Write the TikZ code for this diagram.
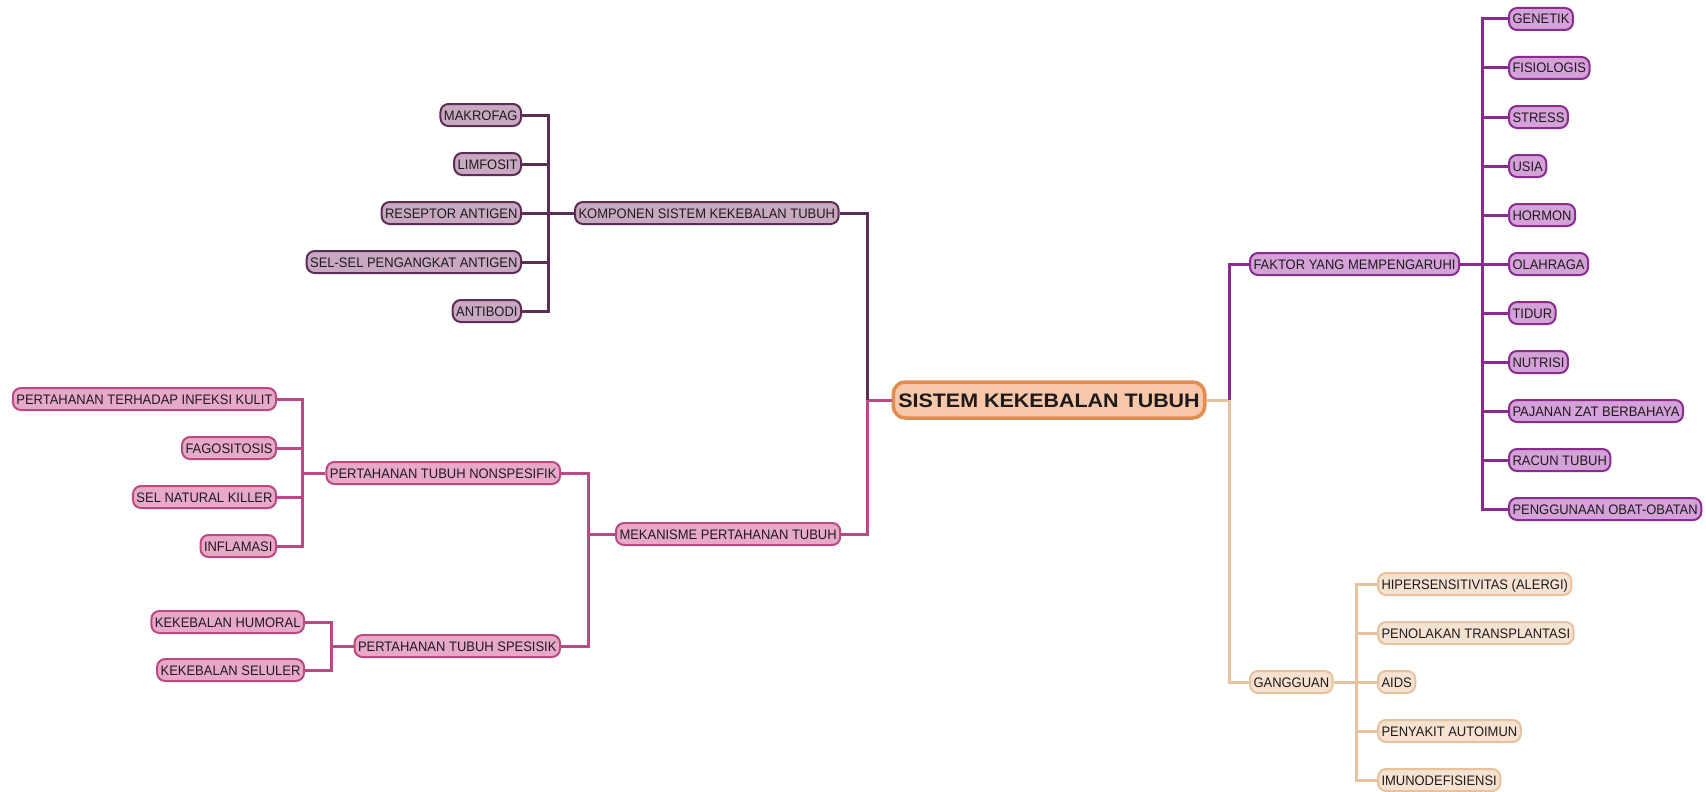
\documentclass[tikz,border=0pt]{standalone}
\usepackage{fontspec}
\setmainfont{Liberation Sans}
\newfontfamily\bigfont[FakeStretch=1.1]{Liberation Sans}
\newfontfamily\smallfont[FakeStretch=0.94]{Liberation Sans}
\definecolor{kline}{HTML}{5C2D55}
\definecolor{kfill}{HTML}{C9A9C2}
\definecolor{mline}{HTML}{BA4A83}
\definecolor{mfill}{HTML}{E8A9C9}
\definecolor{fline}{HTML}{8A2B8E}
\definecolor{ffill}{HTML}{D4A2D9}
\definecolor{gline}{HTML}{E6C29F}
\definecolor{gfill}{HTML}{F6E2D1}
\definecolor{cline}{HTML}{E38C52}
\definecolor{cfill}{HTML}{F8C7A9}
\definecolor{txt}{HTML}{1E1A1C}
\begin{document}
\begin{tikzpicture}[x=1pt,y=-1pt,
  box/.style={rounded corners=8pt, line width=2pt, inner xsep=3.5pt, inner ysep=0pt,
    minimum height=22pt, text height=10pt, text depth=0pt,
    font=\smallfont\fontsize{13.8}{15}\selectfont, text=txt},
  kbox/.style={box, draw=kline, fill=kfill},
  mbox/.style={box, draw=mline, fill=mfill},
  fbox/.style={box, draw=fline, fill=ffill},
  gbox/.style={box, draw=gline, fill=gfill},
  cbox/.style={rounded corners=12pt, line width=3.5pt, draw=cline, fill=cfill,
    inner xsep=5pt, inner ysep=0pt, minimum height=36pt, text height=14pt, text depth=0pt,
    font=\bigfont\bfseries\fontsize{19.5}{22}\selectfont, text=txt},
  kcon/.style={draw=kline, line width=3pt},
  mcon/.style={draw=mline, line width=3pt},
  fcon/.style={draw=fline, line width=3pt},
  gcon/.style={draw=gline, line width=3pt}
]
\useasboundingbox (0,0) rectangle (1706,792);

% central
\node[cbox] (center) at (1049,400) {SISTEM KEKEBALAN TUBUH};

% komponen group
\node[kbox, anchor=west] (komp) at (574,213) {KOMPONEN SISTEM KEKEBALAN TUBUH};
\node[kbox, anchor=east] (k1) at (522,115) {MAKROFAG};
\node[kbox, anchor=east] (k2) at (522,164) {LIMFOSIT};
\node[kbox, anchor=east] (k3) at (522,213) {RESEPTOR ANTIGEN};
\node[kbox, anchor=east] (k4) at (522,262) {SEL-SEL PENGANGKAT ANTIGEN};
\node[kbox, anchor=east] (k5) at (522,311) {ANTIBODI};

% mekanisme group
\node[mbox, anchor=west] (mek) at (615,534) {MEKANISME PERTAHANAN TUBUH};
\node[mbox, anchor=east] (nons) at (561,473) {PERTAHANAN TUBUH NONSPESIFIK};
\node[mbox, anchor=east] (spes) at (561,646) {PERTAHANAN TUBUH SPESISIK};
\node[mbox, anchor=east] (n1) at (277,399) {PERTAHANAN TERHADAP INFEKSI KULIT};
\node[mbox, anchor=east] (n2) at (277,448) {FAGOSITOSIS};
\node[mbox, anchor=east] (n3) at (277,497) {SEL NATURAL KILLER};
\node[mbox, anchor=east] (n4) at (277,546) {INFLAMASI};
\node[mbox, anchor=east] (s1) at (305,622) {KEKEBALAN HUMORAL};
\node[mbox, anchor=east] (s2) at (305,670) {KEKEBALAN SELULER};

% faktor group
\node[fbox, anchor=west] (fak) at (1249,264) {FAKTOR YANG MEMPENGARUHI};
\node[fbox, anchor=west] (f1) at (1508,19) {GENETIK};
\node[fbox, anchor=west] (f2) at (1508,68) {FISIOLOGIS};
\node[fbox, anchor=west] (f3) at (1508,117) {STRESS};
\node[fbox, anchor=west] (f4) at (1508,166) {USIA};
\node[fbox, anchor=west] (f5) at (1508,215) {HORMON};
\node[fbox, anchor=west] (f6) at (1508,264) {OLAHRAGA};
\node[fbox, anchor=west] (f7) at (1508,313) {TIDUR};
\node[fbox, anchor=west] (f8) at (1508,362) {NUTRISI};
\node[fbox, anchor=west] (f9) at (1508,411) {PAJANAN ZAT BERBAHAYA};
\node[fbox, anchor=west] (f10) at (1508,460) {RACUN TUBUH};
\node[fbox, anchor=west] (f11) at (1508,509) {PENGGUNAAN OBAT-OBATAN};

% gangguan group
\node[gbox, anchor=west] (gan) at (1249,682) {GANGGUAN};
\node[gbox, anchor=west] (g1) at (1377,584) {HIPERSENSITIVITAS (ALERGI)};
\node[gbox, anchor=west] (g2) at (1377,633) {PENOLAKAN TRANSPLANTASI};
\node[gbox, anchor=west] (g3) at (1377,682) {AIDS};
\node[gbox, anchor=west] (g4) at (1377,731) {PENYAKIT AUTOIMUN};
\node[gbox, anchor=west] (g5) at (1377,780) {IMUNODEFISIENSI};

% bus coordinates
\coordinate (ltrunk) at (867,400);
\coordinate (rtrunk) at (1229,400);
\coordinate (kb) at (548,213);
\coordinate (mb) at (588,534);
\coordinate (nb) at (302,473);
\coordinate (sb) at (331,646);
\coordinate (fb) at (1482,264);
\coordinate (gb) at (1356,682);

% trunks
\draw[mcon] (center.west) -- (ltrunk) |- (mek.east);
\draw[kcon] (ltrunk) |- (komp.east);
\draw[gcon] (center.east) -- (rtrunk) |- (gan.west);
\draw[fcon] (rtrunk) |- (fak.west);

% komponen children
\foreach \c in {k1,k2,k3,k4,k5} \draw[kcon] (komp.west) -- (kb) |- (\c.east);
% mekanisme
\foreach \c in {nons,spes} \draw[mcon] (mek.west) -- (mb) |- (\c.east);
\foreach \c in {n1,n2,n3,n4} \draw[mcon] (nons.west) -- (nb) |- (\c.east);
\foreach \c in {s1,s2} \draw[mcon] (spes.west) -- (sb) |- (\c.east);
% faktor
\foreach \c in {f1,f2,f3,f4,f5,f6,f7,f8,f9,f10,f11} \draw[fcon] (fak.east) -- (fb) |- (\c.west);
% gangguan
\foreach \c in {g1,g2,g3,g4,g5} \draw[gcon] (gan.east) -- (gb) |- (\c.west);
\end{tikzpicture}
\end{document}
